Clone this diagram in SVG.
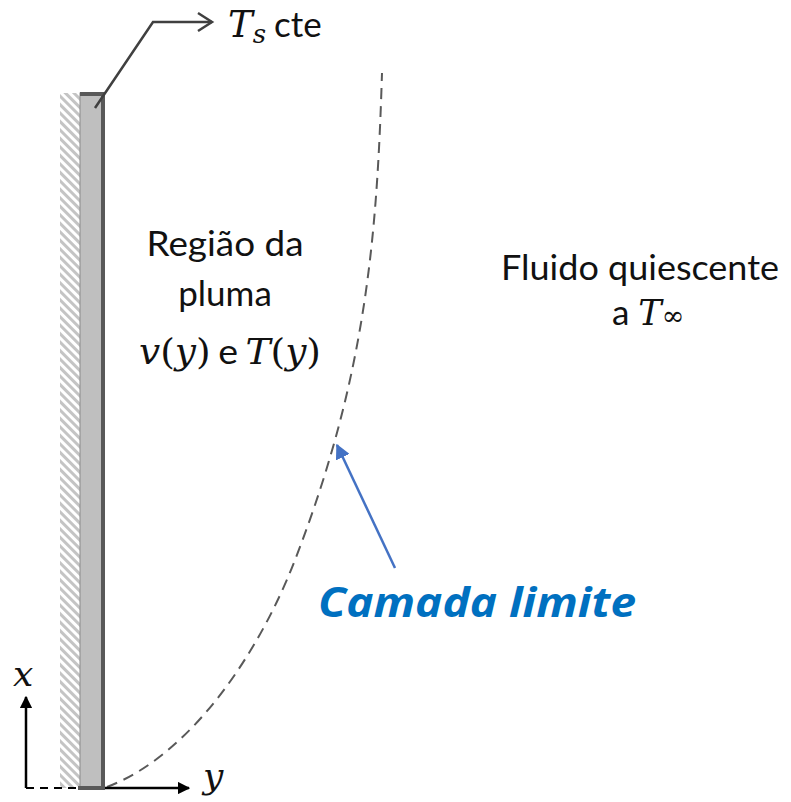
<svg xmlns="http://www.w3.org/2000/svg" width="791" height="802" viewBox="0 0 791 802">
<style>
.sans{font-family:Lato,"Open Sans","Liberation Sans",sans-serif;font-size:35px;fill:#111;font-style:normal}
.math{font-family:"DejaVu Serif","Liberation Serif",serif;font-style:italic;fill:#111}
.up{font-style:normal}
.blue{font-family:"Open Sans","Liberation Sans",sans-serif;font-weight:bold;font-style:italic;font-size:41px;fill:#0070c0}
.ax{stroke:#000;stroke-width:2.5;fill:none}
</style>
<defs>
<pattern id="hatch" width="6" height="6" patternUnits="userSpaceOnUse" patternTransform="rotate(45)">
<rect width="6" height="6" fill="#fff"/>
<rect width="6" height="3" fill="#c4c4c4"/>
</pattern>
<marker id="blk" viewBox="0 0 10 10" refX="9" refY="5" markerWidth="5" markerHeight="5" orient="auto" markerUnits="strokeWidth">
<path d="M0,0 L10,5 L0,10 Z" fill="#000"/>
</marker>
<marker id="blu" viewBox="0 0 10 10" refX="9" refY="5" markerWidth="6" markerHeight="6" orient="auto" markerUnits="strokeWidth">
<path d="M0,0 L10,5 L0,10 Z" fill="#4472c4"/>
</marker>
</defs>
<rect width="791" height="802" fill="#fff"/>

<g id="wall">
<rect x="60" y="93" width="20" height="695" fill="url(#hatch)"/>
</g>
<g id="plate">
<rect x="80" y="93" width="23" height="695" fill="#bfbfbf" stroke="#8c8c8c" stroke-width="1"/>
<rect x="80" y="92" width="25" height="4" fill="#595959"/>
<rect x="101" y="92" width="4" height="698" fill="#595959"/>
<rect x="78" y="786" width="27" height="4" fill="#595959"/>
</g>

<g id="connectors">
<path d="M95,108 L153,22 L212,22" fill="none" stroke="#404040" stroke-width="2.5"/>
<path d="M198,13 L212,22 L198,31" fill="none" stroke="#404040" stroke-width="2.5"/>
<path d="M107,787 C191,755 259,653 295,560 C367,374 377,233 382,73" fill="none" stroke="#595959" stroke-width="2" stroke-dasharray="11,7"/>
<line x1="395" y1="568" x2="337" y2="445" stroke="#4472c4" stroke-width="2.5" marker-end="url(#blu)"/>
<line x1="26" y1="788" x2="26" y2="697" class="ax" marker-end="url(#blk)"/>
<line x1="26" y1="788" x2="80" y2="788" stroke="#000" stroke-width="2" stroke-dasharray="8,6"/>
<line x1="105" y1="788" x2="189" y2="788" class="ax" marker-end="url(#blk)"/>
</g>

<g id="label-ts">
<text x="228" y="37" class="math" font-size="37">T<tspan font-size="26" dy="6">s</tspan><tspan class="sans" dy="-6" dx="8" font-size="36">cte</tspan></text>
</g>
<g id="label-pluma">
<text x="225" y="256" class="sans" text-anchor="middle" textLength="157" lengthAdjust="spacingAndGlyphs">Região da</text>
<text x="225" y="306" class="sans" text-anchor="middle">pluma</text>
<text x="139" y="364" class="math" font-size="35" textLength="182" lengthAdjust="spacingAndGlyphs">v<tspan class="up">(</tspan>y<tspan class="up">)</tspan><tspan class="sans" dx="7">e</tspan><tspan dx="7">T</tspan><tspan class="up">(</tspan>y<tspan class="up">)</tspan></text>
</g>
<g id="label-fluido">
<text x="640" y="280" class="sans" text-anchor="middle" textLength="278" lengthAdjust="spacingAndGlyphs">Fluido quiescente</text>
<text x="612" y="325" class="sans">a <tspan class="math">T</tspan><tspan class="math up" font-size="27">∞</tspan></text>
</g>
<g id="label-camada">
<text x="318" y="617" class="blue" textLength="318" lengthAdjust="spacingAndGlyphs">Camada limite</text>
</g>
<g id="axes-labels">
<text x="13" y="686" class="math" font-size="36">x</text>
<text x="203" y="788" class="math" font-size="36">y</text>
</g>
</svg>
